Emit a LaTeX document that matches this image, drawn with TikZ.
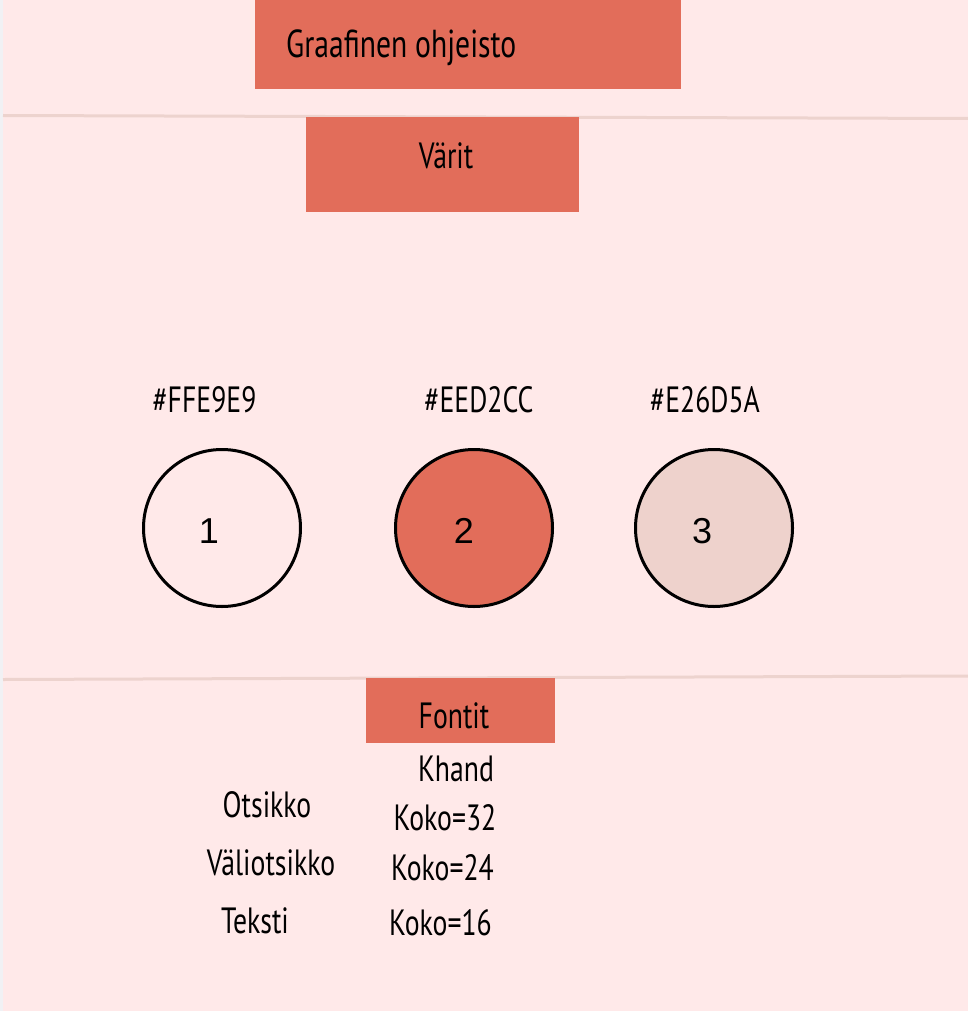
\documentclass[tikz,border=0pt]{standalone}
\usepackage{fontspec}
\newfontfamily\khandfont[FakeStretch=0.76]{PT Sans}
\newfontfamily\digitfont{Liberation Sans}
\begin{document}
\begin{tikzpicture}[x=1pt,y=-1pt,
    swatch/.style={draw=black, line width=3pt, circle, minimum size=157pt, inner sep=0pt},
    headbox/.style={fill=boxred, inner sep=0pt, anchor=north west},
    label/.style={font=\khandfont\fontsize{36.5}{36.5}\selectfont, inner sep=0pt, anchor=base}]
    % Define colors
    \definecolor{pagepink}{HTML}{FFE9E9}
    \definecolor{boxred}{HTML}{E26D5A}
    \definecolor{palepink}{HTML}{EED2CC}
    \definecolor{rulepink}{HTML}{EDD3CE}
    \definecolor{edgegray}{HTML}{F1F1F4}

    % Page
    \useasboundingbox (0,0) rectangle (968,1011);
    \fill[pagepink] (0,0) rectangle (968,1011);
    \fill[edgegray] (0,0) rectangle (3,1011);

    % Dividers
    \draw[rulepink, line width=3pt] (3,115.5) -- (968,118.5);
    \draw[rulepink, line width=3pt] (3,679.5) -- (968,676);

    % Header boxes
    \node[headbox, minimum width=426pt, minimum height=89pt] (titlebox) at (255,0) {};
    \node[headbox, minimum width=273pt, minimum height=95pt] (varitbox) at (306,117) {};
    \node[headbox, minimum width=189pt, minimum height=65pt] (fontitbox) at (366,678) {};

    \node[label, anchor=base west, font=\khandfont\fontsize{39}{39}\selectfont] (title) at (286,58) {Graafinen ohjeisto};
    \node[label] (varit) at (446,168) {Värit};
    \node[label] (fontit) at (454,728) {Fontit};

    % Colour swatches
    \node[swatch, fill=pagepink] (c1) at (222,528) {};
    \node[swatch, fill=boxred] (c2) at (474,528) {};
    \node[swatch, fill=palepink] (c3) at (714,528) {};
    \node[font=\digitfont\fontsize{36}{36}\selectfont, inner sep=0pt, anchor=base] (n1) at (209,543) {1};
    \node[font=\digitfont\fontsize{36}{36}\selectfont, inner sep=0pt, anchor=base] (n2) at (464,543) {2};
    \node[font=\digitfont\fontsize{36}{36}\selectfont, inner sep=0pt, anchor=base] (n3) at (702,543) {3};

    \node[label] (hex1) at (204.5,412) {\#FFE9E9};
    \node[label] (hex2) at (479,412) {\#EED2CC};
    \node[label] (hex3) at (705,412) {\#E26D5A};

    % Fonts
    \node[label] (khand) at (456,781) {Khand};
    \node[label] (otsikko) at (267,817) {Otsikko};
    \node[label] (koko32) at (445,830) {Koko=32};
    \node[label] (valiotsikko) at (271,875) {Väliotsikko};
    \node[label] (koko24) at (442.5,880) {Koko=24};
    \node[label] (teksti) at (255,933) {Teksti};
    \node[label] (koko16) at (440.5,935) {Koko=16};
\end{tikzpicture}
\end{document}
